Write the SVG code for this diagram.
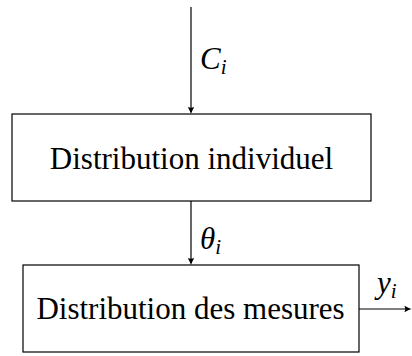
<svg xmlns="http://www.w3.org/2000/svg" width="412" height="356" viewBox="0 0 412 356">
<defs>
<path id="ahd" d="M-3.2,-7 Q-1,-3 0,0 Q1,-3 3.2,-7 Q0,-5.5 -3.2,-7 Z" fill="#000"/>
<path id="ahr" d="M-7,-3.2 Q-3,-1 0,0 Q-3,1 -7,3.2 Q-5.5,0 -7,-3.2 Z" fill="#000"/>
</defs>
<g id="connectors" fill="none" stroke="#000" stroke-width="1.2">
<path d="M191,7 V112"/>
<use href="#ahd" x="191" y="114" stroke="none"/>
<path d="M191,201 V263"/>
<use href="#ahd" x="191" y="265" stroke="none"/>
<path d="M359,309 H409"/>
<use href="#ahr" x="411.5" y="309" stroke="none"/>
</g>
<g id="label-Ci">
<text x="200" y="69" font-family="'Liberation Serif', serif" font-style="italic" font-size="31">C<tspan font-size="21" dy="5">i</tspan></text>
</g>
<g id="label-theta">
<text x="200" y="249" font-family="'Liberation Serif', serif" font-style="italic" font-size="31">θ<tspan font-size="21" dy="5">i</tspan></text>
</g>
<g id="label-yi">
<text x="377" y="293" font-family="'Liberation Serif', serif" font-style="italic" font-size="31">y<tspan font-size="21" dy="5">i</tspan></text>
</g>
<g id="node1">
<rect x="12" y="114" width="359" height="87" fill="#fff" stroke="#000" stroke-width="1.2"/>
<text x="191.5" y="169" text-anchor="middle" font-family="'Liberation Serif', serif" font-size="31">Distribution individuel</text>
</g>
<g id="node2">
<rect x="23" y="265" width="336" height="87" fill="#fff" stroke="#000" stroke-width="1.2"/>
<text x="190.5" y="319" text-anchor="middle" font-family="'Liberation Serif', serif" font-size="31">Distribution des mesures</text>
</g>
</svg>
